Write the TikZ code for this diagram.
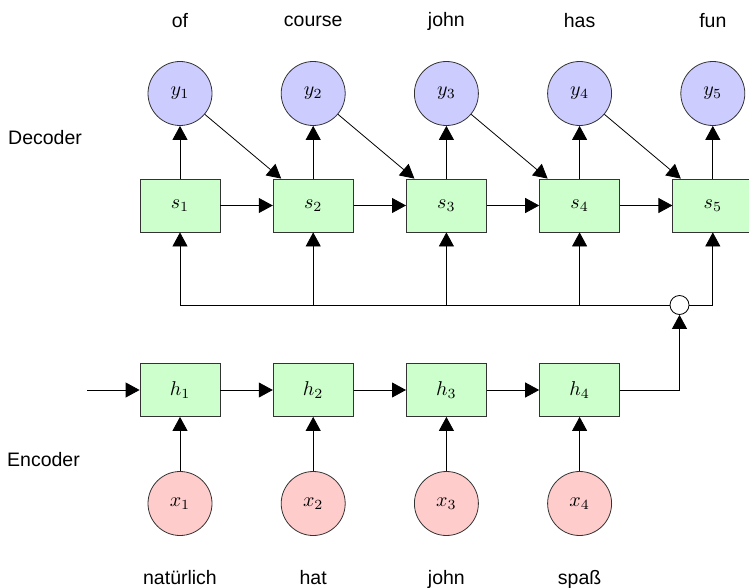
\documentclass[tikz,border=0pt]{standalone}
\usepackage{fontspec}
\setsansfont{Liberation Sans}
\usetikzlibrary{arrows.meta}
\newcommand{\maglabel}[1]{\scalebox{2}{$#1$}}

\begin{document}
\begin{tikzpicture}[x=1pt,y=-1pt,
  word/.style={font=\sffamily\fontsize{19.5}{23}\selectfont, inner sep=0pt},
  outnode/.style={circle, draw=black!80, line width=0.8pt, fill=blue!20, minimum size=64pt, inner sep=0pt},
  innode/.style={circle, draw=black!80, line width=0.8pt, fill=red!20, minimum size=64pt, inner sep=0pt},
  state/.style={rectangle, draw=black!80, line width=0.8pt, fill=green!20, minimum width=80pt, minimum height=53pt, inner sep=0pt},
  mixer/.style={circle, draw=black, line width=0.8pt, fill=white, minimum size=19pt, inner sep=0pt},
  link/.style={draw=black, line width=0.8pt, -{Triangle[length=14pt,width=15pt]}},
]
\path[use as bounding box] (0,0) rectangle (749,588);
\clip (0,0) rectangle (749,588);

% decoder: outputs and states
\foreach \i/\x/\w in {1/180/of, 2/313.2/course, 3/446.4/john, 4/579.6/has, 5/712.8/fun} {
  \node[outnode] (y\i) at (\x,93.5) {\maglabel{y_{\i}}};
  \node[state] (s\i) at (\x,205.5) {\maglabel{s_{\i}}};
  \node[word] (wy\i) at (\x,21) {\w};
}

% encoder: inputs and hidden states
\foreach \i/\x/\w in {1/180/natürlich, 2/313.2/hat, 3/446.4/john, 4/579.6/spaß} {
  \node[state] (h\i) at (\x,390) {\maglabel{h_{\i}}};
  \node[innode] (x\i) at (\x,503.5) {\maglabel{x_{\i}}};
  \node[word, anchor=base] (wx\i) at (\x,584) {\w};
}

\node[word, anchor=base west] (dec) at (8,145) {Decoder};
\node[word, anchor=base west] (enc) at (7,466) {Encoder};

\node[mixer] (m) at (679.5,305) {};
\coordinate (in) at (87,390);

% decoder connections
\foreach \i in {1,...,5} { \draw[link] (s\i) -- (y\i); }
\foreach \i/\j in {1/2,2/3,3/4,4/5} {
  \draw[link] (s\i) -- (s\j);
  \draw[link] (y\i) -- (s\j);
}

% encoder connections
\draw[link] (in) -- (h1);
\foreach \i in {1,...,4} { \draw[link] (x\i) -- (h\i); }
\foreach \i/\j in {1/2,2/3,3/4} { \draw[link] (h\i) -- (h\j); }

% context distribution
\draw[link] (h4.east) -| (m.south);
\foreach \i in {1,...,4} { \draw[link] (m.west) -| (s\i.south); }
\draw[link] (m.east) -| (s5.south);
\end{tikzpicture}
\end{document}
